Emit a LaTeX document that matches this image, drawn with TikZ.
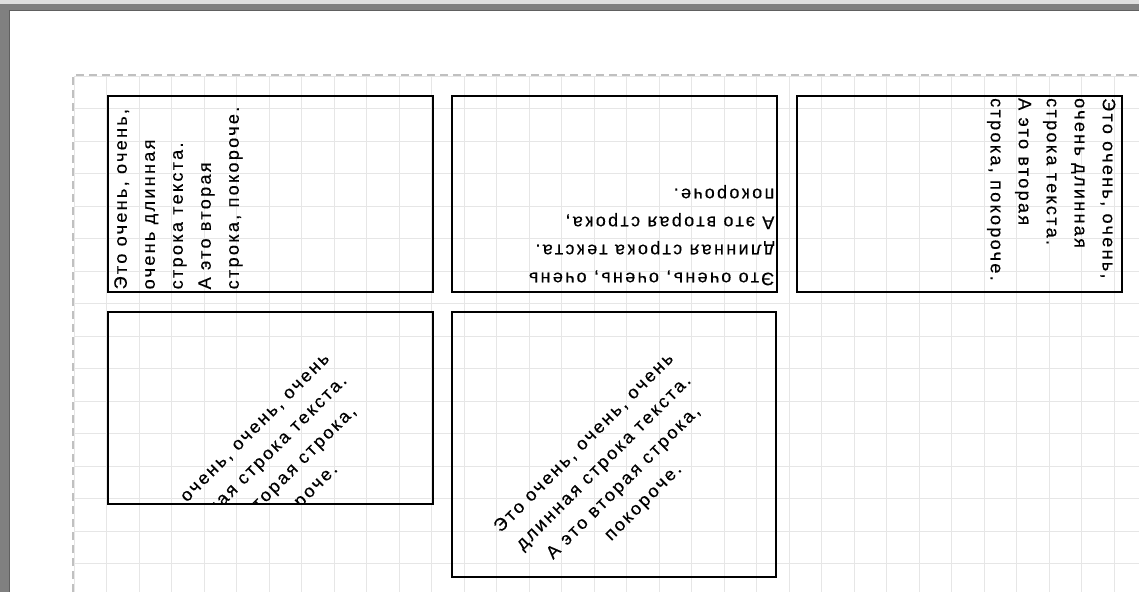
\documentclass[tikz,border=0pt]{standalone}
\usepackage{fontspec}
\newfontfamily\sketchfont[LetterSpace=13,FakeBold=0.3]{Liberation Sans}
\usepackage{tikz}
\usetikzlibrary{calc}
\definecolor{FrameGray}{RGB}{128,128,128}
\definecolor{FrameDark}{RGB}{96,96,96}
\definecolor{GridGray}{RGB}{230,230,230}
\definecolor{EdgeGray}{RGB}{192,192,192}
\tikzset{
    gridline/.style={draw=GridGray, line width=1pt},
    pageedge/.style={draw=EdgeGray, line width=1.5pt, dash pattern=on 8pt off 5pt},
    box/.style={draw, line width=1.5pt, inner sep=0pt, anchor=north west, minimum width=325pt},
    txt/.style={font=\sketchfont\fontsize{18}{28}\selectfont, inner xsep=3pt, inner ysep=7pt, align=left},
}
\begin{document}
\begin{tikzpicture}[x=1pt, y=-1pt]
\useasboundingbox (0,0) rectangle (1139,592);
\fill[white] (0,0) rectangle (1139,592);
\fill[gray!25] (0,0) rectangle (1139,4);
\foreach \gx in {0,...,32}
    \draw[gridline] (74+32.5*\gx,76) -- (74+32.5*\gx,592);
\foreach \gy in {0,...,15}
    \draw[gridline] (74,76+32.5*\gy) -- (1139,76+32.5*\gy);
\draw[pageedge] (73,592) -- (73,75) -- (1139,75);
\fill[FrameGray] (0,4) rectangle (10,592);
\fill[FrameGray] (0,4) rectangle (1139,11);
\draw[FrameDark, line width=1pt] (9.5,592) -- (9.5,10.5) -- (1139,10.5);

\node[box, minimum height=196pt] (b1) at (107,95) {};
\node[box, minimum height=196pt] (b2) at (451,95) {};
\node[box, minimum height=196pt] (b3) at (796,95) {};
\node[box, minimum height=192pt] (b4) at (107,311) {};
\node[box, minimum width=324pt, minimum height=265pt] (b5) at (451,311) {};

\node[txt, rotate=90, anchor=north west] (t1) at (b1.south west) {Это очень, очень,\\очень длинная\\строка текста.\\А это вторая\\строка, покороче.};
\node[txt, rotate=180, anchor=north west] (t2) at (b2.south east) {Это очень, очень, очень\\длинная строка текста.\\А это вторая строка,\\покороче.};
\node[txt, rotate=-90, anchor=north west] (t3) at (b3.north east) {Это очень, очень,\\очень длинная\\строка текста.\\А это вторая\\строка, покороче.};
\begin{scope}
\clip (b4.north west) rectangle (b4.south east);
\node[txt, rotate=45, align=center] (t4) at ($(b4.north west)+(163,162)$) {Это очень, очень, очень\\длинная строка текста.\\А это вторая строка,\\покороче.};
\end{scope}
\node[txt, rotate=45, align=center] (t5) at ($(b5.north west)+(163,162)$) {Это очень, очень, очень\\длинная строка текста.\\А это вторая строка,\\покороче.};
\end{tikzpicture}
\end{document}
